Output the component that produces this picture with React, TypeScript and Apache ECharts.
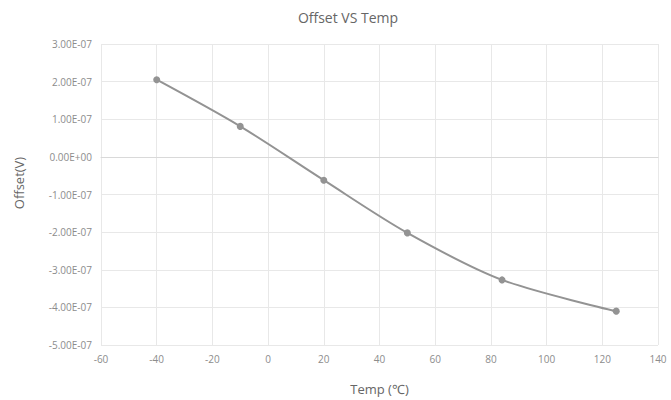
import React, { useEffect, useRef } from "react";
import * as echarts from "echarts";

const temps = [-40, -10, 20, 50, 84, 125];
const offsets = [2.05e-7, 0.81e-7, -0.62e-7, -2.02e-7, -3.27e-7, -4.1e-7];
const titleText = "Offset VS Temp";
const xName = "Temp (℃)";
const yName = "Offset(V)";

function fmtExp(v: number): string {
  const s = v.toExponential(2);
  const [m, e] = s.split("e");
  const sign = e[0] === "-" ? "-" : "+";
  const digits = e.replace(/[+-]/, "").padStart(2, "0");
  return `${m}E${sign}${digits}`;
}

export default function App() {
  const ref = useRef<HTMLDivElement>(null);
  useEffect(() => {
    document.body.style.margin = "0";
    const chart = echarts.init(ref.current!, null, { renderer: "svg" });
    const font = "'Open Sans', 'Noto Sans', sans-serif";
    chart.setOption({
      animation: false,
      backgroundColor: "#ffffff",
      title: {
        text: titleText,
        left: 343,
        top: 5,
        textAlign: "center",
        textStyle: { fontFamily: font, fontSize: 14, fontWeight: "normal", color: "#666666" },
      },
      graphic: [
        {
          type: "text",
          x: 19,
          y: 183,
          rotation: Math.PI / 2,
          style: {
            text: yName,
            fontFamily: font,
            fontSize: 13,
            fill: "#666666",
            align: "center",
            verticalAlign: "middle",
          },
        },
      ],
      grid: { left: 101, right: 13, top: 44, bottom: 55, containLabel: false },
      xAxis: {
        type: "value",
        min: -60,
        max: 140,
        interval: 20,
        name: xName,
        nameLocation: "middle",
        nameGap: 37,
        nameTextStyle: { fontFamily: font, fontSize: 13, color: "#666666" },
        axisLine: { show: true, lineStyle: { color: "#d9d9d9" } },
        axisTick: { show: false },
        axisLabel: { fontFamily: font, fontSize: 10, color: "#8c8c8c", margin: 9 },
        splitLine: { show: true, lineStyle: { color: "#e8e8e8" } },
      },
      yAxis: {
        type: "value",
        min: -5e-7,
        max: 3e-7,
        interval: 1e-7,
        axisLine: { show: false },
        axisTick: { show: false },
        axisLabel: { fontFamily: font, fontSize: 10, color: "#8c8c8c", margin: 9, formatter: (v: number) => fmtExp(v) },
        splitLine: { show: true, lineStyle: { color: "#e8e8e8" } },
      },
      series: [
        {
          type: "line",
          data: temps.map((t, i) => [t, offsets[i]]),
          smooth: 0.3,
          symbol: "circle",
          symbolSize: 7,
          lineStyle: { color: "#939393", width: 2 },
          itemStyle: { color: "#939393" },
        },
      ],
    });
    return () => chart.dispose();
  }, []);
  return <div ref={ref} style={{ width: 671, height: 400 }} />;
}
